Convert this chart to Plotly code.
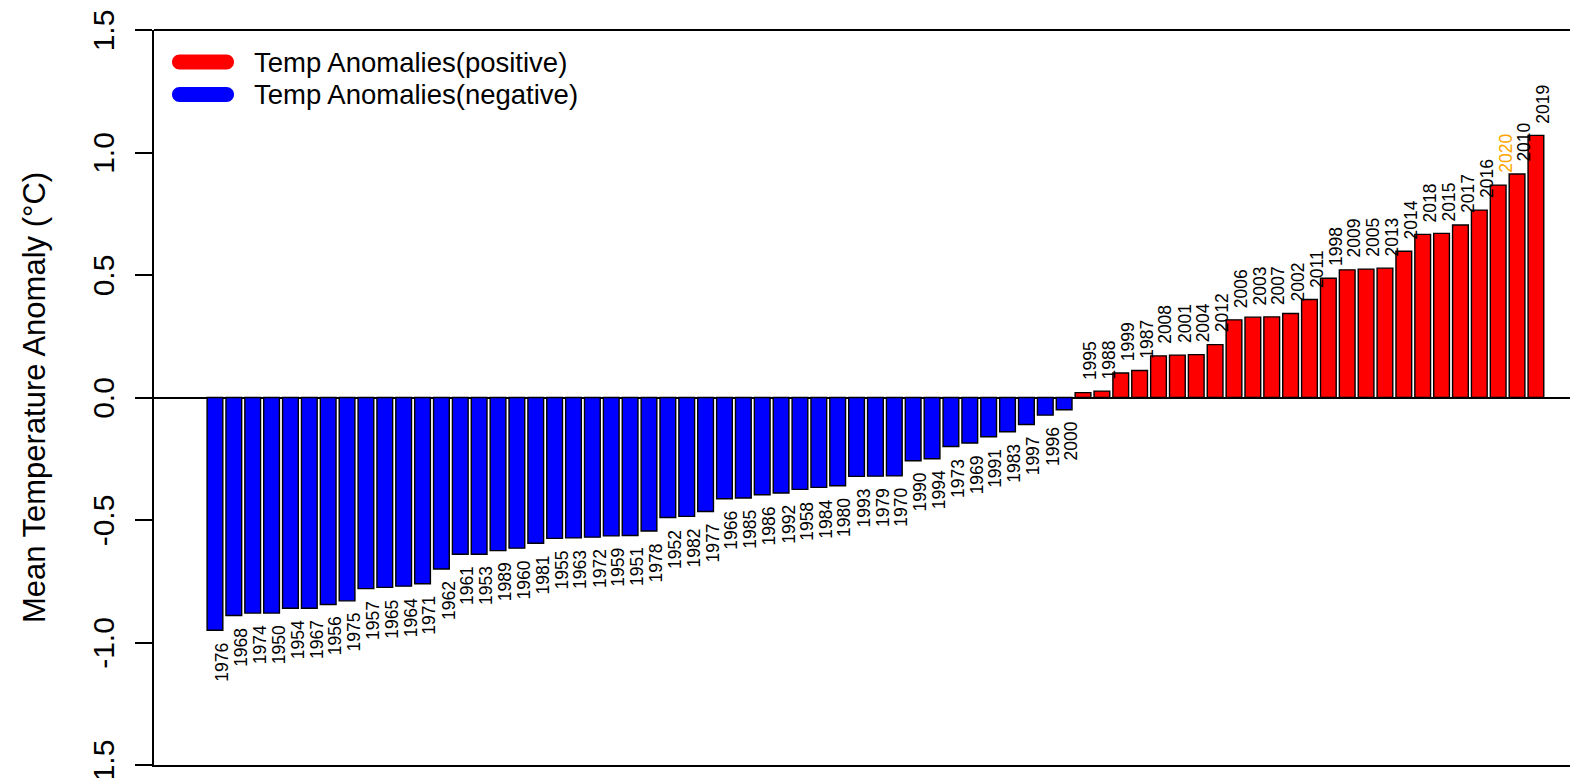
import plotly.graph_objects as go

# ---- data (sorted by anomaly, as in the reference) ----
years = [1976, 1968, 1974, 1950, 1954, 1967, 1956, 1975, 1957, 1965, 1964, 1971,
         1962, 1961, 1953, 1989, 1960, 1981, 1955, 1963, 1972, 1959, 1951, 1978,
         1952, 1982, 1977, 1966, 1985, 1986, 1992, 1958, 1984, 1980, 1993, 1979,
         1970, 1990, 1994, 1973, 1969, 1991, 1983, 1997, 1996, 2000,
         1995, 1988, 1999, 1987, 2008, 2001, 2004, 2012, 2006, 2003, 2007, 2002,
         2011, 1998, 2009, 2005, 2013, 2014, 2018, 2015, 2017, 2016, 2020, 2010, 2019]
anomalies = [-0.95, -0.89, -0.88, -0.88, -0.86, -0.86, -0.845, -0.83, -0.78, -0.775, -0.77, -0.76,
             -0.70, -0.64, -0.64, -0.625, -0.615, -0.595, -0.575, -0.573, -0.57, -0.565, -0.563, -0.545,
             -0.49, -0.485, -0.465, -0.413, -0.41, -0.397, -0.39, -0.375, -0.367, -0.36, -0.322, -0.321,
             -0.32, -0.258, -0.25, -0.20, -0.186, -0.16, -0.14, -0.11, -0.072, -0.05,
             0.02, 0.026, 0.10, 0.11, 0.17, 0.173, 0.175, 0.216, 0.317, 0.328, 0.329, 0.343,
             0.40, 0.487, 0.521, 0.524, 0.528, 0.597, 0.666, 0.67, 0.704, 0.765, 0.867, 0.912, 1.07]
highlight_year = 2020
ytick_vals = [-1.5, -1.0, -0.5, 0.0, 0.5, 1.0, 1.5]
ytick_text = ["-1.5", "-1.0", "-0.5", "0.0", "0.5", "1.0", "1.5"]
legend_names = ["Temp Anomalies(positive)", "Temp Anomalies(negative)"]

POS_COLOR = "#FF0000"
NEG_COLOR = "#0000FF"
FONT = "Liberation Sans, Arial, sans-serif"

# the page body adds an 8px margin, so the figure is a bit smaller than the window
W, H = 1570, 770
ML, MR, MT, MB = 146, 0, 22, 13
PW, PH = W - ML - MR, H - MT - MB

idx = list(range(len(years)))
pos_x = [i for i in idx if anomalies[i] >= 0]
neg_x = [i for i in idx if anomalies[i] < 0]

fig = go.Figure()
fig.add_trace(go.Bar(x=pos_x, y=[anomalies[i] for i in pos_x], name=legend_names[0],
                     marker=dict(color=POS_COLOR, line=dict(color="black", width=1.4)),
                     showlegend=False))
fig.add_trace(go.Bar(x=neg_x, y=[anomalies[i] for i in neg_x], name=legend_names[1],
                     marker=dict(color=NEG_COLOR, line=dict(color="black", width=1.4)),
                     showlegend=False))

annotations = []
for i in idx:
    v = anomalies[i]
    annotations.append(dict(
        x=i, y=v, xref="x", yref="y", text=str(years[i]), showarrow=False,
        textangle=-90, xanchor="center",
        yanchor="top" if v < 0 else "bottom",
        yshift=-10 if v < 0 else 10, xshift=7,
        font=dict(family=FONT, size=17.5,
                  color="orange" if years[i] == highlight_year else "black"),
    ))

# legend (thick rounded lines + text), positioned in figure pixels
def px2paper(px, py):
    return (px - ML) / PW, (MT + PH - py) / PH

r = 7.5
half = 23.5
k = 0.5523 * r
cap_path = (f"M {-half},{r} L {half},{r} "
            f"C {half + k},{r} {half + r},{k} {half + r},0 "
            f"C {half + r},{-k} {half + k},{-r} {half},{-r} "
            f"L {-half},{-r} "
            f"C {-half - k},{-r} {-half - r},{-k} {-half - r},0 "
            f"C {-half - r},{k} {-half - k},{r} {-half},{r} Z")
shapes = []
for j, (col, py) in enumerate([(POS_COLOR, 54), (NEG_COLOR, 86.5)]):
    ax, ay = px2paper(195, py)
    shapes.append(dict(type="path", xref="paper", yref="paper",
                       xsizemode="pixel", ysizemode="pixel",
                       xanchor=ax, yanchor=ay, path=cap_path,
                       fillcolor=col, line=dict(width=0)))
    tx, ty = px2paper(244, py)
    annotations.append(dict(x=tx, y=ty, xref="paper", yref="paper",
                            text=legend_names[j], showarrow=False,
                            xanchor="left", yanchor="middle",
                            font=dict(family=FONT, size=27.5, color="black")))

# top border of the box
shapes.append(dict(type="line", xref="paper", yref="paper", x0=0, x1=1, y0=1, y1=1,
                   line=dict(color="black", width=2)))

fig.update_layout(
    width=W, height=H,
    margin=dict(l=ML, r=MR, t=MT, b=MB, autoexpand=False),
    paper_bgcolor="white", plot_bgcolor="white",
    barmode="overlay", bargap=0.1667,
    font=dict(family=FONT, color="black"),
    annotations=annotations, shapes=shapes,
    xaxis=dict(range=[-3.23, 72.23], showticklabels=False, ticks="", showgrid=False,
               zeroline=False, showline=True, linecolor="black", linewidth=2, fixedrange=True),
    yaxis=dict(range=[-1.5, 1.5], tickvals=ytick_vals, ticktext=ytick_text,
               tickangle=-90, tickfont=dict(family=FONT, size=30, color="black"),
               ticks="outside", ticklen=17, tickwidth=2, tickcolor="black",
               ticklabelstandoff=9, ticklabelshift=5, ticklabeloverflow="allow",
               showgrid=False, zeroline=True, zerolinecolor="black", zerolinewidth=2,
               showline=True, linecolor="black", linewidth=2,
               title=dict(text="Mean Temperature Anomaly (°C)",
                          font=dict(family=FONT, size=31, color="black"), standoff=32),
               automargin=False, fixedrange=True),
)

fig.write_html("out.html")
